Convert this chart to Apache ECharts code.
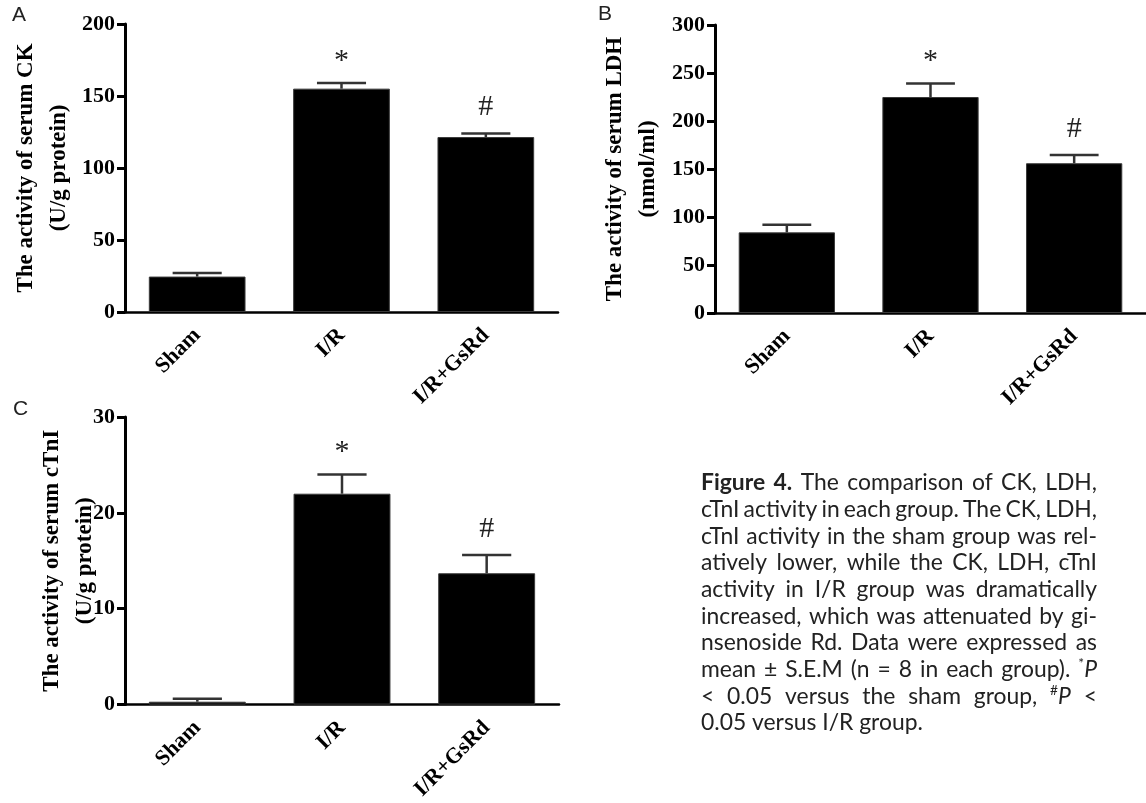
<!DOCTYPE html>
<html>
<head>
<meta charset="utf-8">
<script src="https://cdn.jsdelivr.net/npm/echarts@6/dist/echarts.min.js"></script>
<style>
html,body{margin:0;padding:0;background:#fff;}
#main{width:1146px;height:803px;}
</style>
</head>
<body>
<div id="main"></div>
<script>
// ---------- data ----------
var categories = ['Sham', 'I/R', 'I/R+GsRd'];

var ckMean = [24.6, 155.1, 121.5];
var ckSem  = [2.5, 3.9, 2.4];
var ckMarks = ['', '*', '#'];
var ckTicks = {min: 0, max: 200, interval: 50};

var ldhMean = [84, 225, 156];
var ldhSem  = [8, 14, 8.6];
var ldhMarks = ['', '*', '#'];
var ldhTicks = {min: 0, max: 300, interval: 50};

var ctniMean = [0.3, 22.0, 13.7];
var ctniSem  = [0.3, 2.0, 1.9];
var ctniMarks = ['', '*', '#'];
var ctniTicks = {min: 0, max: 30, interval: 10};

var yTitleA = 'The activity of serum CK\n(U/g protein)';
var yTitleB = 'The activity of serum LDH\n(nmol/ml)';
var yTitleC = 'The activity of serum cTnI\n(U/g protein)';

var captionLines = [
  '**Figure** **4.** The comparison of CK, LDH,',
  'cTnI activity in each group. The CK, LDH,',
  'cTnI activity in the sham group was rel-',
  'atively lower, while the CK, LDH, cTnI',
  'activity in I/R group was dramatically',
  'increased, which was attenuated by gi-',
  'nsenoside Rd. Data were expressed as',
  'mean ± S.E.M (n = 8 in each group). ^*_P_',
  '< 0.05 versus the sham group, ^#_P_ <',
  '0.05 versus I/R group.'
];

// ---------- styles ----------
var SERIF = '"Liberation Serif", "Times New Roman", serif';
var SANS = 'Lato, "Open Sans", sans-serif';

var chart = echarts.init(document.getElementById('main'), null, {renderer: 'canvas'});

var grids = [
  {left: 125, top: 24, width: 433, height: 288},
  {left: 715, top: 25, width: 432, height: 288},
  {left: 125, top: 417, width: 434, height: 288}
];
var panels = [
  {mean: ckMean, sem: ckSem, marks: ckMarks, ticks: ckTicks, title: yTitleA, gap: 49},
  {mean: ldhMean, sem: ldhSem, marks: ldhMarks, ticks: ldhTicks, title: yTitleB, gap: 50},
  {mean: ctniMean, sem: ctniSem, marks: ctniMarks, ticks: ctniTicks, title: yTitleC, gap: 23}
];

var xAxes = [], yAxes = [], series = [];
panels.forEach(function (p, i) {
  xAxes.push({
    type: 'category', gridIndex: i, data: categories, boundaryGap: true,
    axisLine: {lineStyle: {color: '#000', width: 2.5}},
    axisTick: {alignWithLabel: true, length: 8, lineStyle: {color: '#000', width: 3}},
    axisLabel: {rotate: 45, margin: 20, color: '#000', fontFamily: SERIF, fontWeight: 'bold', fontSize: 22}
  });
  yAxes.push({
    type: 'value', gridIndex: i, min: p.ticks.min, max: p.ticks.max, interval: p.ticks.interval,
    axisLine: {show: true, lineStyle: {color: '#000', width: 3}},
    axisTick: {show: true, length: 8, lineStyle: {color: '#000', width: 3}},
    splitLine: {show: false},
    axisLabel: {margin: 10, color: '#000', fontFamily: SERIF, fontWeight: 'bold', fontSize: 22},
    name: p.title, nameLocation: 'middle', nameRotate: 90, nameGap: p.gap, nameMoveOverlap: false,
    nameTextStyle: {color: '#000', fontFamily: SERIF, fontWeight: 'bold', fontSize: 23, lineHeight: 33}
  });
  series.push({
    type: 'bar', xAxisIndex: i, yAxisIndex: i, data: p.mean, barWidth: '67%',
    itemStyle: {color: '#000', borderColor: '#3a3a3a', borderWidth: 1}, silent: true
  });
  series.push({
    type: 'custom', xAxisIndex: i, yAxisIndex: i, silent: true, z: 5,
    data: p.mean.map(function (m, k) { return [k, m, m + p.sem[k]]; }),
    renderItem: function (params, api) {
      var c = api.coord([api.value(0), api.value(1)]);
      var t = api.coord([api.value(0), api.value(2)]);
      var half = api.size([1, 0])[0] * 0.17;
      var mark = p.marks[params.dataIndex];
      var children = [
        {type: 'line', shape: {x1: c[0], y1: c[1], x2: t[0], y2: t[1]}, style: {stroke: '#333', lineWidth: 2.5}},
        {type: 'line', shape: {x1: t[0] - half, y1: t[1], x2: t[0] + half, y2: t[1]}, style: {stroke: '#333', lineWidth: 2.5}}
      ];
      if (mark) {
        children.push({
          type: 'text',
          style: {
            text: mark, x: t[0], y: t[1] - (mark === '*' ? 22 : 26),
            align: 'center', verticalAlign: 'middle', textAlign: 'center', textVerticalAlign: 'middle',
            font: '30px ' + SERIF, fill: '#222'
          }
        });
      }
      return {type: 'group', children: children};
    }
  });
});

// ---------- caption with justified lines ----------
var CAP_LEFT = 701, CAP_RIGHT = 1097, CAP_TOP = 483, CAP_LH = 26.67, LAST_W = 222;
var mctx = document.createElement('canvas').getContext('2d');
var CAP_SIZE = 18;
function fontOf(seg) {
  var size = seg.sup ? CAP_SIZE * 0.6 : CAP_SIZE;
  return (seg.italic ? 'italic ' : '') + (seg.bold ? 'bold ' : '') + size.toFixed(2) + 'px ' + SANS;
}
mctx.font = fontOf({});
CAP_SIZE = 18 * LAST_W / mctx.measureText(captionLines[captionLines.length - 1]).width;

function parseWord(w) {
  var segs = [];
  if (w.indexOf('**') === 0) { segs.push({t: w.replace(/\*\*/g, ''), bold: true}); return segs; }
  var re = /(\^.|_[^_]+_)/g, last = 0, m;
  while ((m = re.exec(w)) !== null) {
    if (m.index > last) segs.push({t: w.slice(last, m.index)});
    if (m[0][0] === '^') segs.push({t: m[0].slice(1), sup: true});
    else segs.push({t: m[0].slice(1, -1), italic: true});
    last = re.lastIndex;
  }
  if (last < w.length) segs.push({t: w.slice(last)});
  return segs;
}
function segWidth(seg) { mctx.font = fontOf(seg); return mctx.measureText(seg.t).width; }

var graphics = [];
captionLines.forEach(function (line, li) {
  var words = line.split(' ').map(parseWord);
  var widths = words.map(function (segs) { return segs.reduce(function (s, g) { return s + segWidth(g); }, 0); });
  var total = widths.reduce(function (a, b) { return a + b; }, 0);
  mctx.font = fontOf({});
  var space = mctx.measureText(' ').width;
  var gap = (li < captionLines.length - 1 && words.length > 1) ? (CAP_RIGHT - CAP_LEFT - total) / (words.length - 1) : space;
  if (gap < space * 0.5) gap = space * 0.5;
  var x = CAP_LEFT, y = CAP_TOP + li * CAP_LH;
  words.forEach(function (segs) {
    segs.forEach(function (g) {
      graphics.push({
        type: 'text', silent: true,
        style: {text: g.t, x: x, y: g.sup ? y - 6 : y, font: fontOf(g), fill: '#222',
                align: 'left', verticalAlign: 'middle', textAlign: 'left', textVerticalAlign: 'middle'}
      });
      x += segWidth(g);
    });
    x += gap;
  });
});

// panel letters
[['A', 12, 15.5], ['B', 598, 14.5], ['C', 13, 409.5]].forEach(function (L) {
  graphics.push({
    type: 'text', silent: true,
    style: {text: L[0], x: L[1], y: L[2], font: '21px "Liberation Sans", Arial, sans-serif', fill: '#222',
            align: 'left', verticalAlign: 'middle', textAlign: 'left', textVerticalAlign: 'middle'}
  });
});

chart.setOption({
  animation: false,
  backgroundColor: '#fff',
  grid: grids,
  xAxis: xAxes,
  yAxis: yAxes,
  series: series,
  graphic: graphics
});
</script>
</body>
</html>
